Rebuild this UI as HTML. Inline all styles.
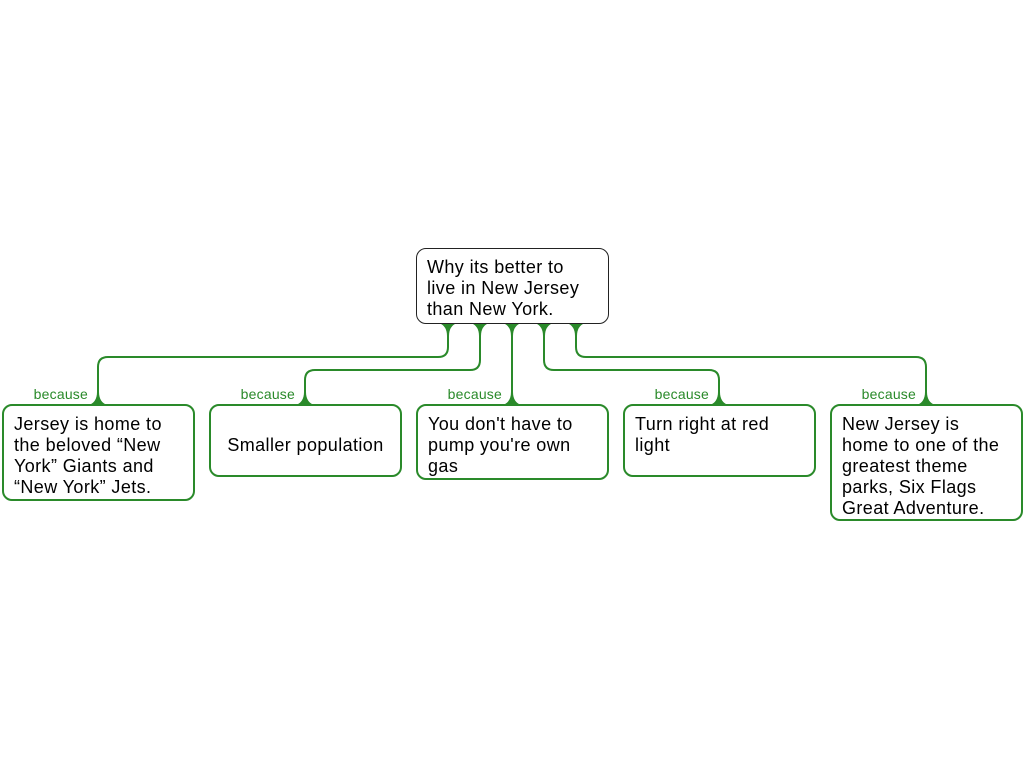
<!DOCTYPE html>
<html><head><style>
body{margin:0;width:1024px;height:768px;background:#fff;position:relative;overflow:hidden;font-family:"Liberation Sans",sans-serif}
.b{position:absolute;box-sizing:border-box;border:2px solid #2a8a2a;border-radius:10px;background:#fff;font-size:18px;letter-spacing:0.4px;line-height:21px;padding:8px 10px;color:#000;white-space:nowrap}
.l{position:absolute;font-size:14px;color:#2a8a2a;text-align:right;width:80px;letter-spacing:0.2px}
</style></head><body>
<svg width="1024" height="768" style="position:absolute;left:0;top:0" fill="none" stroke="#2a8a2a" stroke-width="2">
<path d="M448 323 V347 Q448 357 438 357 H108 Q98 357 98 367 V404"/>
<path d="M480 323 V360 Q480 370 470 370 H315 Q305 370 305 380 V404"/>
<path d="M512 323 V404"/>
<path d="M544 323 V360 Q544 370 554 370 H709 Q719 370 719 380 V404"/>
<path d="M576 323 V347 Q576 357 586 357 H916 Q926 357 926 367 V404"/>
<g fill="#2a8a2a" stroke="none">
<path d="M439 323 Q447 326 447 336 H449 Q449 326 457 323Z"/>
<path d="M471 323 Q479 326 479 336 H481 Q481 326 489 323Z"/>
<path d="M503 323 Q511 326 511 336 H513 Q513 326 521 323Z"/>
<path d="M535 323 Q543 326 543 336 H545 Q545 326 553 323Z"/>
<path d="M567 323 Q575 326 575 336 H577 Q577 326 585 323Z"/>
<path d="M89 405 Q97 402 97 392 H99 Q99 402 107 405Z"/>
<path d="M296 405 Q304 402 304 392 H306 Q306 402 314 405Z"/>
<path d="M503 405 Q511 402 511 392 H513 Q513 402 521 405Z"/>
<path d="M710 405 Q718 402 718 392 H720 Q720 402 728 405Z"/>
<path d="M917 405 Q925 402 925 392 H927 Q927 402 935 405Z"/>
</g>
</svg>
<div class="b" style="left:416px;top:248px;width:193px;height:76px;border:1px solid #222;padding:8px 10px">Why its better to<br>live in New Jersey<br>than New York.</div>
<div class="l" style="left:8px;top:386px">because</div>
<div class="l" style="left:215px;top:386px">because</div>
<div class="l" style="left:422px;top:386px">because</div>
<div class="l" style="left:629px;top:386px">because</div>
<div class="l" style="left:836px;top:386px">because</div>
<div class="b" style="left:2px;top:404px;width:193px;height:97px">Jersey is home to<br>the beloved “New<br>York” Giants and<br>“New York” Jets.</div>
<div class="b" style="left:209px;top:404px;width:193px;height:73px;padding-top:29px;text-align:center">Smaller population</div>
<div class="b" style="left:416px;top:404px;width:193px;height:76px">You don't have to<br>pump you're own<br>gas</div>
<div class="b" style="left:623px;top:404px;width:193px;height:73px">Turn right at red<br>light</div>
<div class="b" style="left:830px;top:404px;width:193px;height:117px">New Jersey is<br>home to one of the<br>greatest theme<br>parks, Six Flags<br>Great Adventure.</div>
</body></html>
